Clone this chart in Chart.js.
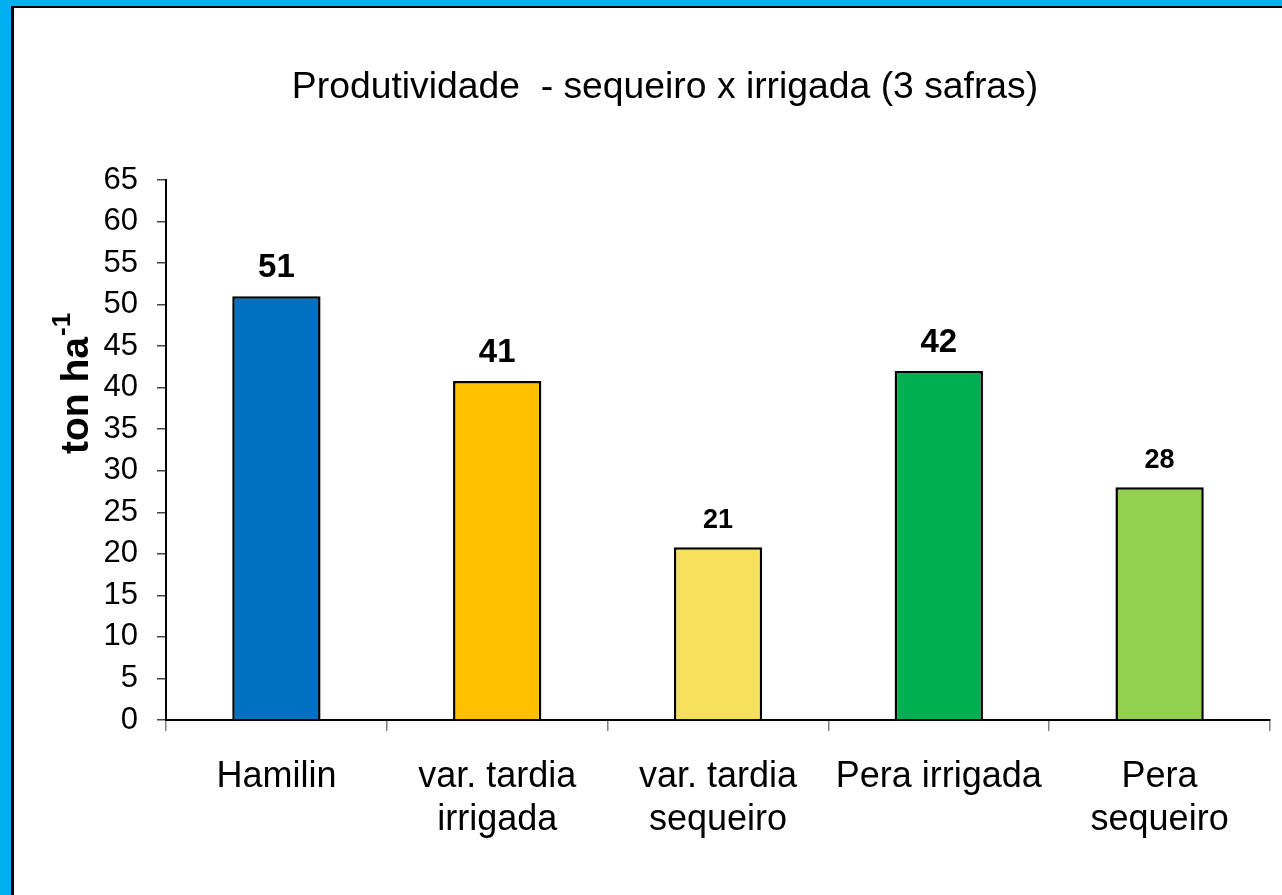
<!DOCTYPE html>
<html>
<head>
<meta charset="utf-8">
<script src="https://cdn.jsdelivr.net/npm/chart.js@4"></script>
<style>
  html, body { margin: 0; padding: 0; }
  body { width: 1282px; height: 895px; background: #00B0F0; position: relative; overflow: hidden; }
  #frame { position: absolute; left: 11px; top: 6px; right: -10px; bottom: -10px;
           background: #fff; border-left: 3px solid #000; border-top: 2px solid #000; }
  #chart { position: absolute; left: 0; top: 0; }
</style>
</head>
<body>
<div id="frame"></div>
<canvas id="chart" width="1282" height="895"></canvas>
<script>
const categories = ['Hamilin', ['var. tardia', 'irrigada'], ['var. tardia', 'sequeiro'], 'Pera irrigada', ['Pera', 'sequeiro']];
const values = [51, 40.8, 20.8, 42, 28];
const valueLabels = ['51', '41', '21', '42', '28'];
const labelSizes = [33, 33, 27, 33, 27];
const colors = ['#0070C0', '#FFC000', '#F6DF5A', '#00B050', '#92D050'];
const yTicks = [0, 5, 10, 15, 20, 25, 30, 35, 40, 45, 50, 55, 60, 65];

const FONT = '"Liberation Sans", Arial, sans-serif';

// valores em cima das barras + título do eixo y com expoente
const extras = {
  id: 'extras',
  afterDatasetsDraw(chart) {
    const ctx = chart.ctx;
    const meta = chart.getDatasetMeta(0);
    ctx.save();
    ctx.fillStyle = '#000';
    ctx.textAlign = 'center';
    ctx.textBaseline = 'alphabetic';
    meta.data.forEach((bar, i) => {
      ctx.font = 'bold ' + labelSizes[i] + 'px ' + FONT;
      ctx.fillText(valueLabels[i], bar.x, bar.y - 19);
    });
    ctx.restore();

    ctx.save();
    ctx.translate(88, 454);
    ctx.rotate(-Math.PI / 2);
    ctx.fillStyle = '#000';
    ctx.textAlign = 'left';
    ctx.textBaseline = 'alphabetic';
    ctx.font = 'bold 39px ' + FONT;
    ctx.fillText('ton ha', 0, 0);
    const w = ctx.measureText('ton ha').width;
    ctx.font = 'bold 26px ' + FONT;
    ctx.fillText('-1', w + 1, -18);
    ctx.restore();
  }
};

new Chart(document.getElementById('chart'), {
  type: 'bar',
  data: {
    labels: categories,
    datasets: [{
      data: values,
      backgroundColor: colors,
      borderColor: '#000',
      borderWidth: 2.5,
      categoryPercentage: 1,
      barPercentage: 0.4
    }]
  },
  options: {
    responsive: false,
    animation: false,
    layout: { padding: { left: 60, right: 12, top: 0, bottom: 0 } },
    plugins: {
      legend: { display: false },
      tooltip: { enabled: false },
      title: {
        display: true,
        text: 'Produtividade  - sequeiro x irrigada (3 safras)',
        color: '#000',
        font: { family: FONT, size: 37.3, weight: 'normal', lineHeight: 1.2 },
        padding: { top: 65.6, bottom: 69.6 }
      }
    },
    scales: {
      x: {
        afterFit(scale) { scale.height = 175; },
        grid: { display: true, drawOnChartArea: false, offset: true, tickLength: 11, color: '#808080', lineWidth: 1.5 },
        border: { display: true, color: '#000', width: 2 },
        ticks: { color: '#000', padding: 24, maxRotation: 0, autoSkip: false,
                 font: { family: FONT, size: 36, lineHeight: 1.2 } }
      },
      y: {
        min: 0,
        max: 65,
        afterFit(scale) { scale.width = 106; },
        afterBuildTicks(scale) { scale.ticks = yTicks.map(v => ({ value: v })); },
        grid: { display: true, drawOnChartArea: false, tickLength: 9, color: '#444', lineWidth: 1.5 },
        border: { display: true, color: '#000', width: 2 },
        ticks: { color: '#000', padding: 19, font: { family: FONT, size: 31 } }
      }
    }
  },
  plugins: [extras]
});
</script>
</body>
</html>
